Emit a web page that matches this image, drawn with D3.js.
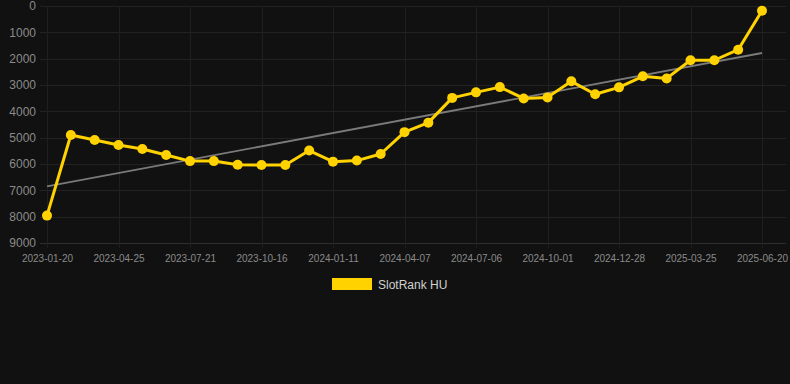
<!DOCTYPE html>
<html>
<head>
<meta charset="utf-8">
<title>SlotRank HU</title>
<script src="https://d3js.org/d3.v7.min.js"></script>
<style>
  body { margin: 0; background: #111111; font-family: Arial, "Liberation Sans", sans-serif; }
  svg { display: block; }
</style>
</head>
<body>
<div id="chart"></div>
<script>
  // data (rank, lower is better)
  const dates = [
    "2023-01-20", "2023-02-21", "2023-03-24", "2023-04-25", "2023-05-24", "2023-06-22",
    "2023-07-21", "2023-08-19", "2023-09-17", "2023-10-16", "2023-11-14", "2023-12-13",
    "2024-01-11", "2024-02-09", "2024-03-09", "2024-04-07", "2024-05-07", "2024-06-06",
    "2024-07-06", "2024-08-04", "2024-09-02", "2024-10-01", "2024-10-30", "2024-11-29",
    "2024-12-28", "2025-01-26", "2025-02-24", "2025-03-25", "2025-04-23", "2025-05-22",
    "2025-06-20"
  ];
  const ranks = [
    7960, 4900, 5090, 5280, 5430, 5660, 5890, 5890, 6030, 6040, 6040, 5490,
    5910, 5870, 5620, 4790, 4430, 3490, 3280, 3080, 3510, 3470, 2860, 3350,
    3090, 2670, 2750, 2060, 2060, 1660, 180
  ];
  const yTicks = [0, 1000, 2000, 3000, 4000, 5000, 6000, 7000, 8000, 9000];
  const seriesName = "SlotRank HU";

  const width = 790, height = 384;
  const svg = d3.select("#chart").append("svg")
    .attr("width", width)
    .attr("height", height);

  svg.append("rect").attr("width", width).attr("height", height).attr("fill", "#111111");

  const x = d3.scalePoint().domain(dates).range([47, 762]);
  const y = d3.scaleLinear().domain([0, 9000]).range([6, 243]);

  // horizontal grid + y labels
  const yAxis = svg.append("g")
    .attr("transform", "translate(40,0)")
    .call(d3.axisLeft(y).tickValues(yTicks).tickSize(0).tickPadding(4).tickFormat(d3.format("d")));
  yAxis.select(".domain").remove();
  yAxis.selectAll("text").attr("fill", "#8a8a8a").style("font-size", "12px")
    .style("font-family", "Arial, 'Liberation Sans', sans-serif");

  svg.append("g").selectAll("line")
    .data(yTicks)
    .join("line")
    .attr("x1", 40).attr("x2", 786)
    .attr("y1", d => Math.round(y(d)) + 0.5).attr("y2", d => Math.round(y(d)) + 0.5)
    .attr("stroke", d => d === 9000 ? "#2e2e2e" : "#222222")
    .attr("stroke-width", 1);

  // vertical grid + x labels, every third date
  const xTicks = dates.filter((d, i) => i % 3 === 0);
  svg.append("g").selectAll("line")
    .data(xTicks)
    .join("line")
    .attr("x1", d => Math.round(x(d)) + 0.5).attr("x2", d => Math.round(x(d)) + 0.5)
    .attr("y1", 6).attr("y2", 248)
    .attr("stroke", "#1f1f1f");

  const xAxis = svg.append("g")
    .attr("transform", "translate(0,243)")
    .call(d3.axisBottom(x).tickValues(xTicks).tickSize(0).tickPadding(12));
  xAxis.select(".domain").remove();
  xAxis.selectAll("text").attr("fill", "#8a8a8a").style("font-size", "10px")
    .style("font-family", "Arial, 'Liberation Sans', sans-serif");

  // trend line (least squares over index)
  const n = ranks.length;
  const mx = d3.mean(ranks, (d, i) => i);
  const my = d3.mean(ranks);
  const slope = d3.sum(ranks, (d, i) => (i - mx) * (d - my)) / d3.sum(ranks, (d, i) => (i - mx) * (i - mx));
  const trend = [0, n - 1].map(i => ({ date: dates[i], v: my + slope * (i - mx) }));
  svg.append("path")
    .datum(trend)
    .attr("d", d3.line().x(d => x(d.date)).y(d => y(d.v)))
    .attr("fill", "none")
    .attr("stroke", "#7a7a7a")
    .attr("stroke-width", 1.8);

  // series
  const pts = dates.map((d, i) => ({ date: d, v: ranks[i] }));
  svg.append("path")
    .datum(pts)
    .attr("d", d3.line().x(d => x(d.date)).y(d => y(d.v)))
    .attr("fill", "none")
    .attr("stroke", "#ffd200")
    .attr("stroke-width", 3)
    .attr("stroke-linejoin", "round");

  svg.append("g").selectAll("circle")
    .data(pts)
    .join("circle")
    .attr("cx", d => x(d.date))
    .attr("cy", d => y(d.v))
    .attr("r", 5)
    .attr("fill", "#ffd200");

  // legend
  const legend = svg.append("g").attr("transform", "translate(332,278)");
  legend.append("rect").attr("width", 40).attr("height", 12).attr("fill", "#ffd200");
  legend.append("text")
    .attr("x", 46).attr("y", 10.5)
    .attr("fill", "#d0d0d0")
    .style("font-size", "12px")
    .style("font-family", "Arial, 'Liberation Sans', sans-serif")
    .text(seriesName);
</script>
</body>
</html>
